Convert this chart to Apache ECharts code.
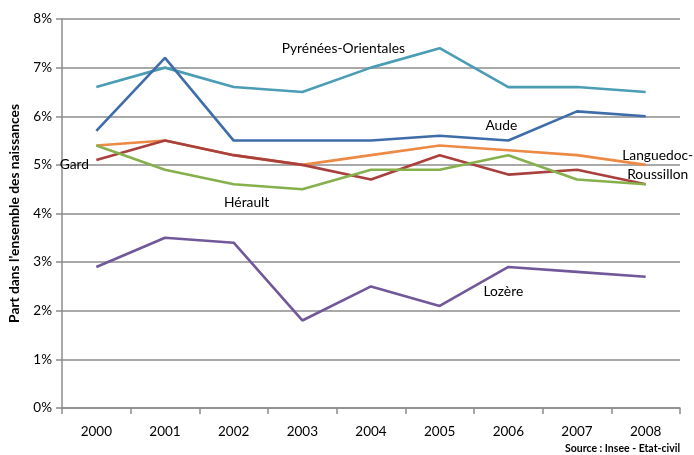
<!DOCTYPE html>
<html><head><meta charset="utf-8">
<script src="https://cdn.jsdelivr.net/npm/echarts@6/dist/echarts.min.js"></script>
<style>html,body{margin:0;padding:0;background:#fff}#c{width:694px;height:455px}</style>
</head><body><div id="c"></div>
<script>
var years = ['2000','2001','2002','2003','2004','2005','2006','2007','2008'];
var yTicks = [0,1,2,3,4,5,6,7,8];
var pyreneesOrientales = [6.6,7.0,6.6,6.5,7.0,7.4,6.6,6.6,6.5];
var aude = [5.7,7.2,5.5,5.5,5.5,5.6,5.5,6.1,6.0];
var languedocRoussillon = [5.4,5.5,5.2,5.0,5.2,5.4,5.3,5.2,5.0];
var gard = [5.1,5.5,5.2,5.0,4.7,5.2,4.8,4.9,4.6];
var herault = [5.4,4.9,4.6,4.5,4.9,4.9,5.2,4.7,4.6];
var lozere = [2.9,3.5,3.4,1.8,2.5,2.1,2.9,2.8,2.7];

var FONT = 'Lato';
function lbl(name, coord, offset) {
  return {
    symbol: 'rect', symbolSize: 1, silent: true, animation: false,
    itemStyle: {color: 'rgba(0,0,0,0)'},
    label: {show: true, position: 'inside', formatter: name, color: '#000', fontFamily: FONT,
      fontSize: 13.8, offset: offset || [0,0], lineHeight: 19, align: 'center'},
    data: [{coord: coord}]
  };
}
function line(name, data, color, mp) {
  return {name: name, type: 'line', data: data, symbol: 'none',
    lineStyle: {color: color, width: 2.6}, itemStyle: {color: color},
    markPoint: mp, z: 3, animation: false};
}
var chart = echarts.init(document.getElementById('c'), null, {renderer: 'canvas'});
chart.setOption({
  animation: false,
  grid: {left: 57, right: 14, top: 19, bottom: 47},
  xAxis: {type: 'category', data: years,
    axisLine: {lineStyle: {color: '#8c8c8c', width: 1.5}},
    axisTick: {show: true, length: 6, lineStyle: {color: '#8c8c8c', width: 1.5}},
    axisLabel: {color: '#000', fontFamily: FONT, fontSize: 13.5, margin: 17}},
  yAxis: {type: 'value', min: yTicks[0], max: yTicks[yTicks.length-1], interval: 1,
    name: "Part dans l'ensemble des naissances", nameLocation: 'middle', nameGap: 40,
    nameTextStyle: {color: '#000', fontFamily: FONT, fontSize: 13.8, fontWeight: 'bold'},
    axisLine: {show: true, lineStyle: {color: '#8c8c8c', width: 1.5}},
    axisTick: {show: true, length: 6, lineStyle: {color: '#8c8c8c', width: 1.5}},
    splitLine: {lineStyle: {color: '#8c8c8c', width: 1.5}},
    axisLabel: {color: '#000', fontFamily: FONT, fontSize: 13.5, margin: 10, formatter: '{value}%'}},
  series: [
    line('Pyrénées-Orientales', pyreneesOrientales, '#4A9DB5', lbl('Pyrénées-Orientales', ['2003', 7.4], [41,0])),
    line('Aude', aude, '#3E6DA9', lbl('Aude', ['2006', 5.8], [-7,0])),
    line('Languedoc-Roussillon', languedocRoussillon, '#EC8A45', lbl('Languedoc-\nRoussillon', ['2008', 5.0], [12,0])),
    line('Gard', gard, '#A9403D', lbl('Gard', ['2000', 5.0], [-22,0])),
    line('Hérault', herault, '#86B04C', lbl('Hérault', ['2002', 4.22], [13,0])),
    line('Lozère', lozere, '#71589A', lbl('Lozère', ['2006', 2.4], [-5,0]))
  ],
  graphic: [{type: 'text', right: 14, bottom: 1,
    style: {text: 'Source : Insee - Etat-civil', fill: '#000', font: 'bold 10.5px Lato'}}]
});
</script></body></html>
